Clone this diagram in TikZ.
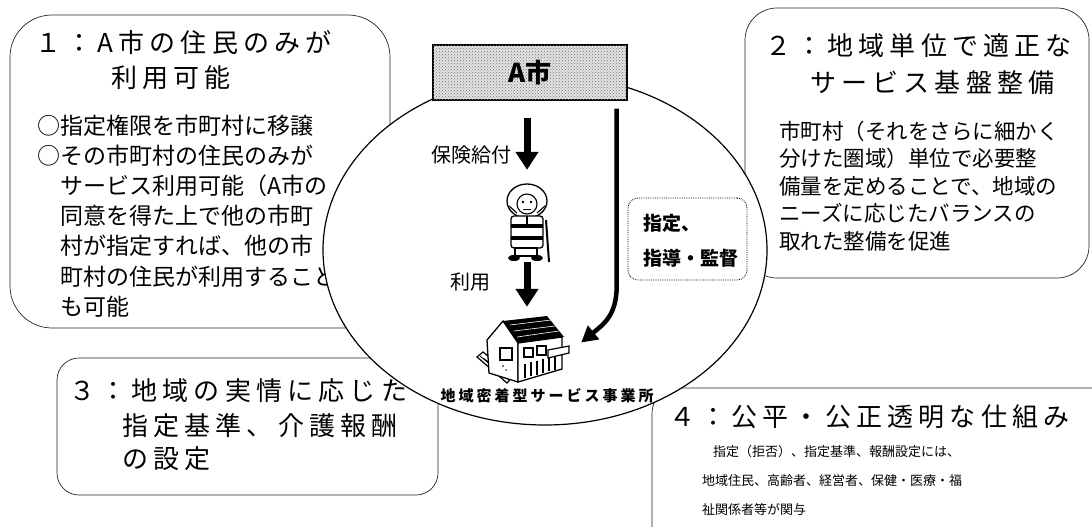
\documentclass[tikz,border=0pt]{standalone}
\usepackage{fontspec}
\usetikzlibrary{shapes.geometric,arrows.meta,calc,patterns}
\newfontfamily\jp{Noto Sans CJK JP}
\newfontfamily\jpsp[LetterSpace=20]{Noto Sans CJK JP}

\tikzset{
  panel/.style={draw=black!85, line width=0.7pt, fill=white, inner sep=0pt},
  head/.style={anchor=west, inner sep=0pt, font=\jpsp\fontsize{26pt}{30pt}\selectfont},
  bodya/.style={anchor=west, inner sep=0pt, font=\jp\fontsize{23pt}{28pt}\selectfont},
  bodyb/.style={anchor=west, inner sep=0pt, font=\jp\fontsize{21.5pt}{26pt}\selectfont},
  bodyc/.style={anchor=west, inner sep=0pt, font=\jp\fontsize{13pt}{16pt}\selectfont},
  lbl/.style={anchor=west, inner sep=0pt, font=\jp\fontsize{20pt}{24pt}\selectfont},
  boldlbl/.style={anchor=west, inner sep=0pt, font=\jp\bfseries\fontsize{19pt}{23pt}\selectfont},
  bigarrow/.style={line width=7pt, -{Triangle[width=22pt,length=18pt]}},
  longarrow/.style={line width=4.5pt, -{Triangle[width=17pt,length=16pt]}},
  ink/.style={line width=1.3pt},
}

\begin{document}
\begin{tikzpicture}[x=1pt,y=-1pt]
\useasboundingbox (0,0) rectangle (1092,527);

% ---- panel 1 ----
\node[panel, rounded corners=42pt, minimum width=380pt, minimum height=313pt] (box1) at (200,171.5) {};
\node[head] (t1a) at (35,43) {１：A市の住民のみが};
\node[head] (t1b) at (111,78) {利用可能};
\node[bodya] (b1a) at (37,126) {○指定権限を市町村に移譲};
\node[bodya] (b1b) at (37,156) {○その市町村の住民のみが};
\node[bodya] (b1c) at (60,186) {サービス利用可能（A市の};
\node[bodya] (b1d) at (60,216) {同意を得た上で他の市町};
\node[bodya] (b1e) at (60,246) {村が指定すれば、他の市};
\node[bodya] (b1f) at (60,277) {町村の住民が利用すること};
\node[bodya] (b1g) at (60,307) {も可能};

% ---- panel 2 ----
\node[panel, rounded corners=32pt, minimum width=344pt, minimum height=270pt] (box2) at (917,143) {};
\node[head] (t2a) at (765,46) {２：地域単位で適正な};
\node[head] (t2b) at (810,83) {サービス基盤整備};
\node[bodyb] (b2a) at (779,131) {市町村（それをさらに細かく};
\node[bodyb] (b2b) at (779,158.5) {分けた圏域）単位で必要整};
\node[bodyb] (b2c) at (779,186) {備量を定めることで、地域の};
\node[bodyb] (b2d) at (779,213.5) {ニーズに応じたバランスの};
\node[bodyb] (b2e) at (779,241) {取れた整備を促進};

% ---- panel 3 ----
\node[panel, rounded corners=22pt, minimum width=381pt, minimum height=137pt] (box3) at (247.5,426.5) {};
\node[head] (t3a) at (69,391) {３：地域の実情に応じた};
\node[head] (t3b) at (122,426) {指定基準、介護報酬};
\node[head] (t3c) at (122,459) {の設定};

% ---- panel 4 (runs past the right and lower edges) ----
\node[panel, rounded corners=25pt, minimum width=470pt, minimum height=180pt] (box4) at (887,478) {};
\node[head] (t4) at (669,417) {４：公平・公正透明な仕組み};
\node[bodyc] (b4a) at (713,452) {指定（拒否）、指定基準、報酬設定には、};
\node[bodyc] (b4b) at (702,481) {地域住民、高齢者、経営者、保健・医療・福};
\node[bodyc] (b4c) at (702,510) {祉関係者等が関与};

% ---- the municipal area ----
\node[ellipse, draw, fill=white, line width=1.2pt, inner sep=0pt,
      minimum width=444pt, minimum height=350pt] (region) at (545,250) {};

\node[draw, line width=1.4pt, minimum width=194pt, minimum height=55pt, inner sep=0pt,
      preaction={fill=gray!22}, postaction={pattern=crosshatch dots, pattern color=black!55},
      font=\jp\bfseries\fontsize{26pt}{30pt}\selectfont] (city) at (530,72.5) {A市};

% ---- elderly user (figure) ----
\node[minimum width=46pt, minimum height=80pt, inner sep=0pt] (elder) at (527,222) {};
\draw[ink, fill=white] (527,201) ellipse (20pt and 17pt);
\draw[line width=1.1pt, fill=white] (527,204) circle (10pt);
\fill (523,202) circle (1.3pt) (531,202) circle (1.3pt);
\draw[line width=0.9pt] (523,209) -- (531,209);
\draw[line width=1.1pt] (509,206) -- (517,213) (545,206) -- (537,213);
\draw[ink, fill=white, rounded corners=3pt] (511,216) rectangle (543,248);
\fill (511,224) rectangle (543,228);
\fill (511,236) rectangle (543,240);
\draw[line width=1.1pt] (527,216) -- (527,224);
\draw[line width=1.2pt, fill=white] (515,248) rectangle (537,256);
\fill (514,258) ellipse (6pt and 3pt);
\fill (537,258) ellipse (6pt and 3pt);
\draw[line width=2pt] (546,220) -- (549,262);

% ---- service facility (building) ----
\node[minimum width=90pt, minimum height=65pt, inner sep=0pt] (house) at (522,350.5) {};
\draw[line width=1.2pt, fill=white] (477,357) -- (483,352) -- (513,376) -- (507,383) -- cycle;
\draw[line width=0.8pt] (480,356) -- (509,380) (483,358) -- (510,377);
\fill (503,321) -- (547,316) -- (564,337) -- (518,343) -- cycle;
\draw[white, line width=0.6pt] (510,325) -- (551,320) (514,331) -- (555,326) (517,337) -- (559,331);
\draw[ink, fill=white] (487,340) -- (503,321) -- (518,343) -- (518,382) -- (489,373) -- cycle;
\draw[ink, fill=white] (518,343) -- (562,337) -- (562,369) -- (518,382) -- cycle;
\draw[ink] (500,348) rectangle (512,360);
\draw[line width=1.1pt] (524,348) rectangle (533,357) (537,346) rectangle (546,355);
\foreach \xx/\ya/\yb in {525/364/378, 531/362/376, 537/361/375, 543/359/373, 549/357/371, 555/356/370}
  \draw[line width=1.6pt] (\xx,\ya) -- (\xx,\yb);
\draw[line width=1.2pt, fill=white] (548,350) -- (569,346) -- (569,353) -- (548,358) -- cycle;
\fill[black!70] (503,366) circle (1.2pt) (506,370) circle (1pt);

\node[anchor=north, inner sep=0pt, font=\jpsp\bfseries\fontsize{15pt}{18pt}\selectfont]
  (facility) at (547,388) {地域密着型サービス事業所};

% ---- flows ----
\draw[bigarrow, shorten <=17pt, shorten >=12pt] (city.south -| elder.north) -- (elder.north);
\node[lbl] (benefit) at (431,155) {保険給付};
\draw[bigarrow, shorten >=11pt] (elder.south) -- (elder.south |- house.north);
\node[lbl] (use) at (450,282) {利用};
\draw[longarrow] ($(city.south east)+(-11,8)$) -- ++(0,177)
  .. controls +(0,30) and +(22,-18) .. ($(house.east)+(14,-8)$);

% ---- designation / guidance note ----
\node[draw, densely dotted, line width=0.8pt, rounded corners=10pt, inner sep=0pt,
      minimum width=119pt, minimum height=82pt] (note) at (687.5,239) {};
\node[boldlbl] (note1) at (643,223) {指定、};
\node[boldlbl] (note2) at (643,258) {指導・監督};
\end{tikzpicture}
\end{document}
